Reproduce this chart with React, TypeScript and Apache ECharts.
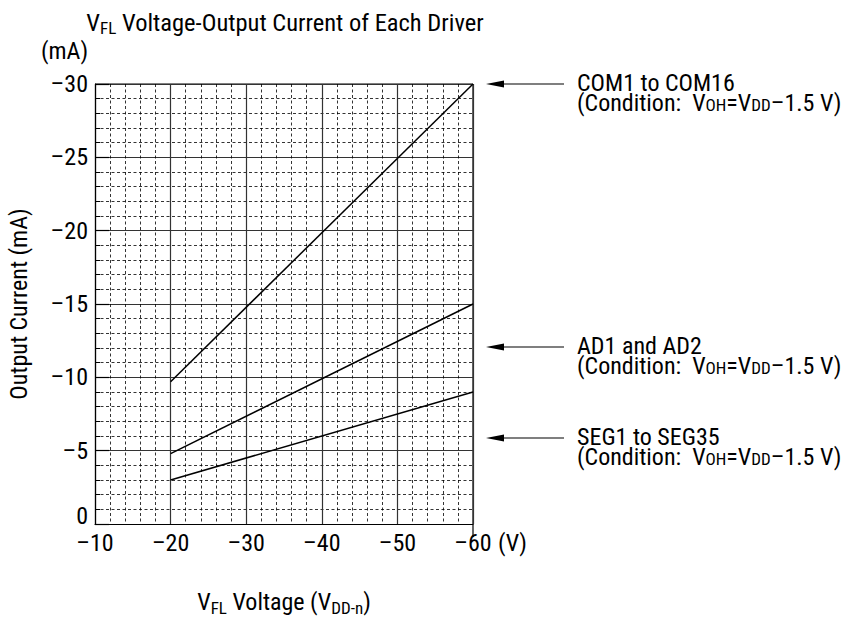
import React, { useEffect, useRef } from "react";
import * as echarts from "echarts";

const voltage = [-20, -60];
const comCurrent = [-9.7, -30];
const adCurrent = [-4.8, -15];
const segCurrent = [-3, -9];

const xTicks = { min: -60, max: -10, interval: 10 };
const yTicks = { min: -30, max: 0, interval: 5 };

const annotations = [
  { name: "COM1 to COM16", y: 84 },
  { name: "AD1 and AD2", y: 347 },
  { name: "SEG1 to SEG35", y: 438 },
];
const conditionText = "(Condition:  V{sub|OH}=V{sub|DD}\u20131.5 V)";

const FONT = "'Roboto Condensed', 'Liberation Sans Narrow', 'DejaVu Sans Condensed', sans-serif";
const FS = 24;
const SUB = 17;

const dash = (v: number) => (v === 0 ? "0" : "\u2013" + Math.abs(v));

const subRich = {
  sub: { fontSize: SUB, lineHeight: 16, verticalAlign: "bottom", fontFamily: FONT, color: "#000" },
};

export default function App() {
  const ref = useRef<HTMLDivElement>(null);
  useEffect(() => {
    document.body.style.margin = "0";
    const chart = echarts.init(ref.current!, null, { renderer: "svg" });
    const pts = (ys: number[]) => voltage.map((x, i) => [x, ys[i]]);
    const graphics: any[] = [
      {
        type: "text",
        x: 285,
        y: 22,
        style: {
          text: "V{sub|FL} Voltage-Output Current of Each Driver",
          fontSize: 24.5,
          fontFamily: FONT,
          fill: "#000",
          align: "center",
          verticalAlign: "middle",
          lineHeight: 28,
          rich: { sub: { fontSize: SUB, lineHeight: 16, verticalAlign: "bottom", fontFamily: FONT, fill: "#000" } },
        },
      },
      {
        type: "text",
        x: 41,
        y: 51,
        style: { text: "(mA)", fontSize: FS, fontFamily: FONT, fill: "#000", verticalAlign: "middle" },
      },
      { type: "line", shape: { x1: 95, y1: 84, x2: 473, y2: 84 }, style: { stroke: "#000", lineWidth: 1.2 } },
      { type: "line", shape: { x1: 473, y1: 84, x2: 473, y2: 537 }, style: { stroke: "#000", lineWidth: 1.2 } },
    ];
    annotations.forEach((a) => {
      graphics.push({
        type: "line",
        shape: { x1: 500, y1: a.y, x2: 564, y2: a.y },
        style: { stroke: "#000", lineWidth: 1.2 },
      });
      graphics.push({
        type: "polygon",
        shape: { points: [[486, a.y], [504, a.y - 3.5], [504, a.y + 3.5]] },
        style: { fill: "#000" },
      });
      graphics.push({
        type: "text",
        x: 577,
        y: a.y + 9,
        style: { text: a.name, fontSize: FS, fontFamily: FONT, fill: "#000", verticalAlign: "bottom", lineHeight: 20 },
      });
      graphics.push({
        type: "text",
        x: 577,
        y: a.y + 9,
        style: {
          text: conditionText,
          fontSize: FS,
          fontFamily: FONT,
          fill: "#000",
          verticalAlign: "top",
          lineHeight: 20,
          rich: { sub: { fontSize: SUB, lineHeight: 6, verticalAlign: "bottom", fontFamily: FONT, fill: "#000" } },
        },
      });
    });
    chart.setOption({
      animation: false,
      backgroundColor: "#fff",
      textStyle: { fontFamily: FONT },
      grid: { left: 95, top: 84, width: 378, height: 453, show: false },
      xAxis: {
        type: "value",
        inverse: true,
        min: xTicks.min,
        max: xTicks.max,
        interval: xTicks.interval,
        name: "V{sub|FL} Voltage (V{sub|DD-n})",
        nameLocation: "middle",
        nameGap: 64,
        nameTextStyle: { fontSize: FS, color: "#000", fontFamily: FONT, lineHeight: 28, rich: subRich },
        axisLine: { show: true, lineStyle: { color: "#000", width: 1.2 } },
        axisTick: { show: false },
        axisLabel: {
          formatter: (v: number) => (v === xTicks.min ? "{pad|}" + dash(v) + "{unit| (V)}" : dash(v)),
          fontSize: FS,
          color: "#000",
          margin: 7,
          fontFamily: FONT,
          rich: {
            pad: { width: 36, fontSize: FS, fontFamily: FONT, color: "#000" },
            unit: { width: 36, align: "left", fontSize: FS, fontFamily: FONT, color: "#000" },
          },
        },
        splitLine: { show: true, lineStyle: { color: "#333", width: 1.2 } },
        minorTick: { show: false, splitNumber: 5 },
        minorSplitLine: { show: true, lineStyle: { color: "#000", width: 0.8, type: [3, 2.5] } },
      },
      yAxis: {
        type: "value",
        inverse: true,
        min: yTicks.min,
        max: yTicks.max,
        interval: yTicks.interval,
        name: "Output Current (mA)",
        nameLocation: "middle",
        nameGap: 64,
        nameTextStyle: { fontSize: FS, color: "#000", fontFamily: FONT },
        axisLine: { show: true, lineStyle: { color: "#000", width: 1.2 } },
        axisTick: { show: true, inside: true, length: 14, lineStyle: { color: "#000", width: 1.2 } },
        axisLabel: {
          formatter: (v: number) => (v === 0 ? "{zero|0}" : dash(v)),
          fontSize: FS,
          color: "#000",
          margin: 7,
          fontFamily: FONT,
          rich: { zero: { fontSize: FS, fontFamily: FONT, color: "#000", padding: [0, 0, 16, 0] } },
        },
        splitLine: { show: true, lineStyle: { color: "#333", width: 1.2 } },
        minorTick: { show: true, splitNumber: 5, length: 5, lineStyle: { color: "#000" } },
        minorSplitLine: { show: true, lineStyle: { color: "#000", width: 0.8, type: [3, 2.5] } },
      },
      series: [
        { name: "COM", type: "line", data: pts(comCurrent), showSymbol: false, lineStyle: { color: "#000", width: 1.5 } },
        { name: "AD", type: "line", data: pts(adCurrent), showSymbol: false, lineStyle: { color: "#000", width: 1.5 } },
        { name: "SEG", type: "line", data: pts(segCurrent), showSymbol: false, lineStyle: { color: "#000", width: 1.5 } },
      ],
      graphic: graphics,
    });
    return () => chart.dispose();
  }, []);
  return <div ref={ref} style={{ width: 851, height: 621 }} />;
}
